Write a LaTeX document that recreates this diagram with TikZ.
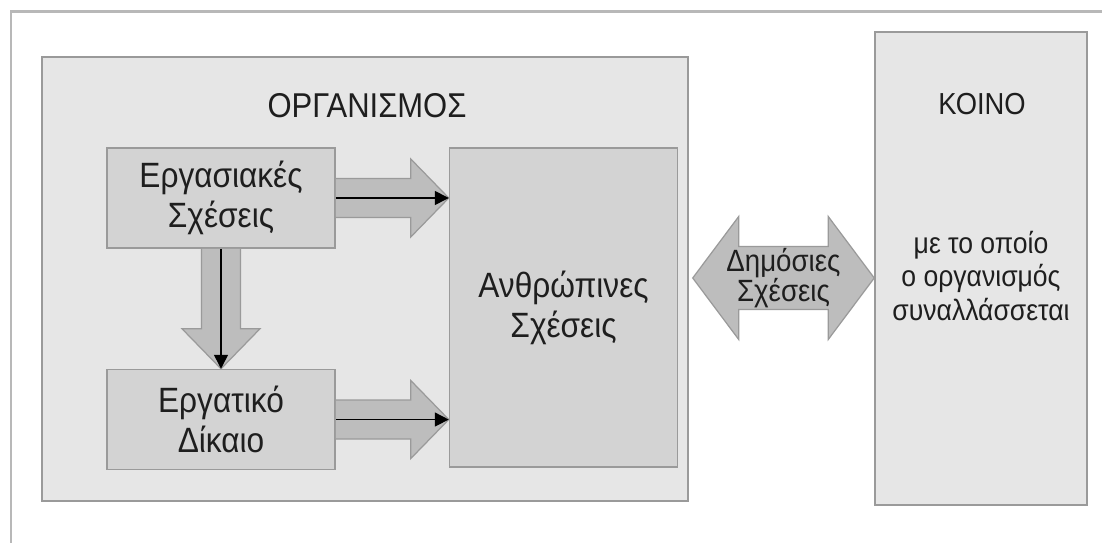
\documentclass[tikz,border=0pt]{standalone}
\usepackage{fontspec}
\setmainfont{Liberation Sans}[FakeStretch=0.9]
\usepackage{tikz}
\usetikzlibrary{arrows.meta,positioning,calc}

\definecolor{framegray}{HTML}{B8B8B8}
\definecolor{orgfill}{HTML}{E6E6E6}
\definecolor{boxfill}{HTML}{D3D3D3}
\definecolor{arrfill}{HTML}{BDBDBD}
\definecolor{linegray}{HTML}{9A9A9A}
\definecolor{txt}{HTML}{1E1E1E}

\begin{document}
\begin{tikzpicture}[
    x=0.02cm, y=-0.02cm,
    outer/.style={rectangle, draw=linegray, fill=orgfill, line width=0.9pt, inner sep=0pt},
    b1/.style={rectangle, draw=linegray, fill=boxfill, line width=0.9pt, align=center, minimum width=4.56cm, minimum height=2.0cm, inner sep=0pt, font=\fontsize{20}{22.8}\selectfont, text=txt},
    lbl/.style={align=center, inner sep=0pt, text=txt},
    fat/.style={draw=linegray, fill=arrfill, line width=0.7pt, line join=miter},
    arr/.style={-{Triangle[length=0.28cm, width=0.28cm]}, line width=0.9pt, draw=black}
]
    \useasboundingbox (0,0) rectangle (1102,543);
    \fill[white] (0,0) rectangle (1102,543);
    \draw[framegray, line width=1.7pt] (11,543) -- (11,12) -- (1102,12);

    % outer boxes
    \node [outer, minimum width=12.92cm, minimum height=8.88cm] (org) at (365,279) {};
    \node [outer, minimum width=4.24cm, minimum height=9.46cm] (koino) at (981,268.5) {};
    \node [lbl, font=\fontsize{19.6}{24}\selectfont] (orgt) at (367,106) {ΟΡΓΑΝΙΣΜΟΣ};
    \node [lbl, font=\fontsize{17.3}{22}\selectfont] (koinot) at (982,104) {ΚΟΙΝΟ};
    \node [lbl, font=\fontsize{16.8}{18.8}\selectfont] (koinos) at (981,276) {με το οποίο\\ο οργανισμός\\συναλλάσσεται};

    % inner boxes
    \node [b1] (es) at (221,198) {Εργασιακές\\Σχέσεις};
    \node [b1, below=2.4cm of es] (ed) {Εργατικό\\Δίκαιο};
    \node [b1, minimum height=6.38cm, anchor=north west] (ah) at ($(es.north east)+(113,0)$) {Ανθρώπινες\\Σχέσεις};

    \coordinate (t1) at (ah.west |- es.east);
    \coordinate (t2) at (ah.west |- ed.east);

    % block arrows
    \filldraw [fat] ($(es.east)+(0,-19.5)$) -- ($(t1)+(-38,-19.5)$) -- ($(t1)+(-38,-39)$) -- (t1)
        -- ($(t1)+(-38,39)$) -- ($(t1)+(-38,19.5)$) -- ($(es.east)+(0,19.5)$);
    \filldraw [fat] ($(ed.east)+(0,-19.5)$) -- ($(t2)+(-38,-19.5)$) -- ($(t2)+(-38,-39)$) -- (t2)
        -- ($(t2)+(-38,39)$) -- ($(t2)+(-38,19.5)$) -- ($(ed.east)+(0,19.5)$);
    \filldraw [fat] ($(es.south)+(-19.5,0)$) -- ($(ed.north)+(-19.5,-40)$) -- ($(ed.north)+(-39,-40)$) -- (ed.north)
        -- ($(ed.north)+(39,-40)$) -- ($(ed.north)+(19.5,-40)$) -- ($(es.south)+(19.5,0)$);

    \draw [arr] (es.east) -- (t1);
    \draw [arr] (ed.east) -- (t2);
    \draw [arr] (es.south) -- (ed.north);

    % double arrow
    \coordinate (lt) at ($(org.east)+(4,-1)$);
    \coordinate (rt) at (koino.west |- lt);
    \filldraw [fat] (lt) -- ($(lt)+(46,-61.5)$) -- ($(lt)+(46,-31.5)$) -- ($(rt)+(-46,-31.5)$) -- ($(rt)+(-46,-61.5)$)
        -- (rt) -- ($(rt)+(-46,61.5)$) -- ($(rt)+(-46,31.5)$) -- ($(lt)+(46,31.5)$) -- ($(lt)+(46,61.5)$) -- cycle;
    \node [lbl, font=\fontsize{17.5}{17}\selectfont] (dp) at ($(lt)!0.5!(rt)$) {Δημόσιες\\Σχέσεις};
\end{tikzpicture}
\end{document}
